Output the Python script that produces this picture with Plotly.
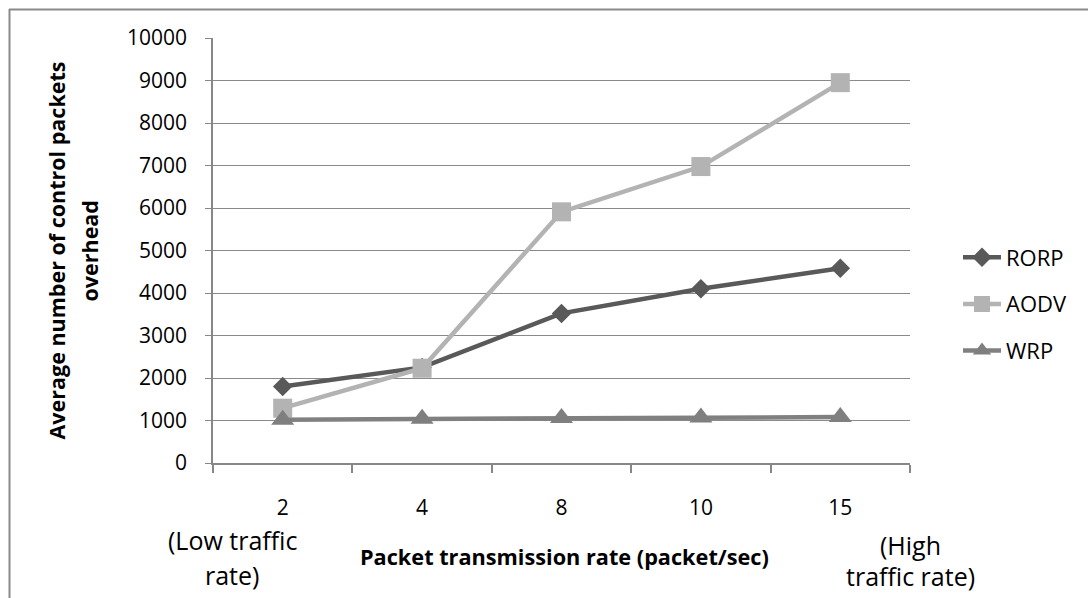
import plotly.graph_objects as go

categories = ["2", "4", "8", "10", "15"]
rorp = [1800, 2250, 3520, 4100, 4580]
aodv = [1290, 2230, 5910, 6975, 8950]
wrp = [1020, 1040, 1060, 1070, 1080]
y_ticks = [0, 1000, 2000, 3000, 4000, 5000, 6000, 7000, 8000, 9000, 10000]
y_ticktext = [str(v) for v in y_ticks]

FONT = "Open Sans"
L, R, T, B = 213, 910, 38, 463
W, H = 1088, 598
pw, ph = R - L, B - T

def px(x):
    return (x - L) / pw

def py(y):
    return (B - y) / ph

fig = go.Figure()
fig.add_trace(go.Scatter(x=categories, y=rorp, name="RORP", mode="lines+markers",
                         line=dict(color="#595959", width=4.5),
                         marker=dict(symbol="diamond", size=15, color="#595959"),
                         legendgroup="a"))
fig.add_trace(go.Scatter(x=categories, y=aodv, name="AODV", mode="lines+markers",
                         line=dict(color="#b3b3b3", width=4.5),
                         marker=dict(symbol="square", size=19, color="#b3b3b3"),
                         legendgroup="b"))
fig.add_trace(go.Scatter(x=categories, y=wrp, name="WRP", mode="lines+markers",
                         line=dict(color="#808080", width=4.5),
                         marker=dict(symbol="triangle-up", size=20, color="#7f7f7f"),
                         legendgroup="c"))

fig.update_layout(
    width=W, height=H,
    margin=dict(l=L, r=W - R, t=T, b=H - B),
    paper_bgcolor="white", plot_bgcolor="white",
    font=dict(family=FONT, size=21, color="#000000"),
    showlegend=True,
    legend=dict(x=px(958), y=py(304), xanchor="left", yanchor="middle",
                font=dict(size=22, family=FONT), tracegroupgap=15,
                itemwidth=38, bgcolor="rgba(0,0,0,0)"),
    xaxis=dict(type="category", range=[-0.5, 4.5], showgrid=False,
               showline=True, linecolor="#878787", linewidth=1.5,
               ticks="outside", tickson="boundaries", ticklen=8,
               tickcolor="#878787", tickwidth=1.5,
               tickfont=dict(size=21, family=FONT), ticklabelstandoff=25),
    yaxis=dict(range=[0, 10000], tickvals=y_ticks, ticktext=y_ticktext,
               showgrid=True, gridcolor="#8a8a8a", gridwidth=1.3,
               showline=True, linecolor="#878787", linewidth=1.5,
               ticks="outside", ticklen=6, tickcolor="#878787", tickwidth=1.3,
               tickfont=dict(size=21, family=FONT), ticklabelstandoff=14,
               zeroline=False),
)

annotations = [
    dict(text="<b>Average number of control packets</b>", x=px(56), y=0.5,
         textangle=-90, font=dict(size=21.5)),
    dict(text="<b>overhead</b>", x=px(89), y=0.5, textangle=-90, font=dict(size=21.5)),
    dict(text="<b>Packet transmission rate (packet/sec)</b>", x=px(564), y=py(556),
         font=dict(size=21.7)),
    dict(text="(Low traffic", x=px(232), y=py(540), font=dict(size=25)),
    dict(text="rate)", x=px(232), y=py(575), font=dict(size=25)),
    dict(text="(High", x=px(910), y=py(545), font=dict(size=25)),
    dict(text="traffic rate)", x=px(910), y=py(576), font=dict(size=25)),
]
for a in annotations:
    a.update(xref="paper", yref="paper", showarrow=False, xanchor="center",
             yanchor="middle")
    a["font"]["family"] = FONT
    a["font"]["color"] = "#000000"
fig.update_layout(annotations=annotations)

# chart-area border (top and left edges visible)
fig.add_shape(type="line", xref="paper", yref="paper", x0=px(9), x1=px(1088),
              y0=py(9.5), y1=py(9.5), line=dict(color="#8a8a8a", width=2))
fig.add_shape(type="line", xref="paper", yref="paper", x0=px(9.5), x1=px(9.5),
              y0=py(9), y1=py(598), line=dict(color="#8a8a8a", width=2))

fig.write_html("out.html")
